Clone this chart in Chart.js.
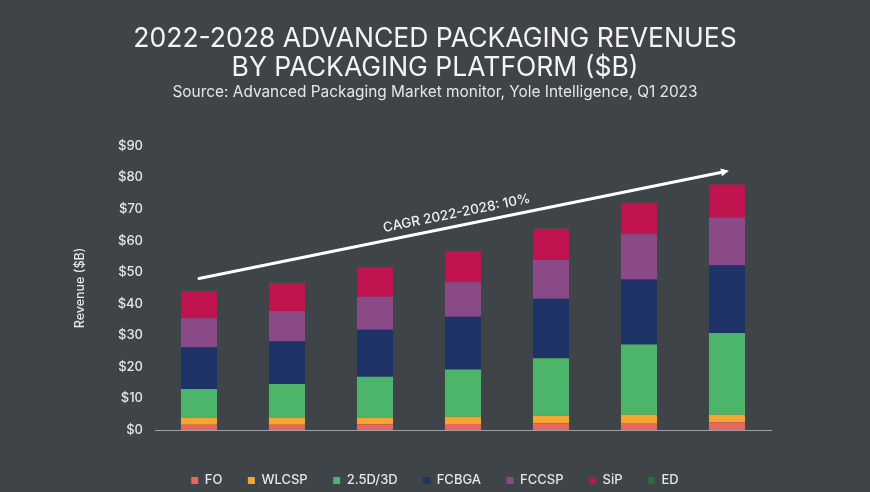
<!DOCTYPE html>
<html>
<head>
<meta charset="utf-8">
<script src="https://cdn.jsdelivr.net/npm/chart.js@4.4.1/dist/chart.umd.min.js"></script>
<style>
    html, body { margin: 0; padding: 0; background: #3f4449; }
    #wrap { width: 870px; height: 492px; }
</style>
</head>
<body>
<div id="wrap"><canvas id="revenueChart"></canvas></div>
<script>
// Data (values in $B)
const years = ['2022', '2023', '2024', '2025', '2026', '2027', '2028'];
const foValues = [1.7, 1.7, 1.8, 1.9, 2.1, 2.2, 2.4];
const wlcspValues = [2.1, 2.1, 2.2, 2.3, 2.4, 2.6, 2.4];
const advanced3dValues = [9.2, 10.8, 12.9, 15.0, 18.2, 22.3, 25.9];
const fcbgaValues = [13.2, 13.5, 14.9, 16.7, 18.9, 20.6, 21.5];
const fccspValues = [9.2, 9.6, 10.4, 10.9, 12.3, 14.3, 15.1];
const sipValues = [8.6, 8.9, 9.3, 9.7, 9.9, 10.0, 10.5];
const edValues = [0.1, 0.1, 0.1, 0.1, 0.1, 0.1, 0.1];
const yTicks = [0, 10, 20, 30, 40, 50, 60, 70, 80, 90];

// CAGR arrow, in data terms: [category, value]
const cagrFrom = ['2022', 48];
const cagrTo = ['2028', 82];
const cagrLabel = 'CAGR 2022-2028: 10%';

const FONT = 'Inter, "Open Sans", sans-serif';

const cagrArrowPlugin = {
    id: 'cagrArrow',
    afterDatasetsDraw: (chart) => {
        const { ctx, scales } = chart;
        const x1 = scales.x.getPixelForValue(years.indexOf(cagrFrom[0]));
        const y1 = scales.y.getPixelForValue(cagrFrom[1]);
        const x2 = scales.x.getPixelForValue(years.indexOf(cagrTo[0]));
        const y2 = scales.y.getPixelForValue(cagrTo[1]);
        const angle = Math.atan2(y2 - y1, x2 - x1);

        ctx.save();
        ctx.strokeStyle = '#ffffff';
        ctx.fillStyle = '#ffffff';
        ctx.lineWidth = 3;
        ctx.lineCap = 'round';
        ctx.beginPath();
        ctx.moveTo(x1, y1);
        ctx.lineTo(x2 - 4 * Math.cos(angle), y2 - 4 * Math.sin(angle));
        ctx.stroke();

        // arrow head
        ctx.translate(x2, y2);
        ctx.rotate(angle);
        ctx.beginPath();
        ctx.moveTo(2, 0);
        ctx.lineTo(-6, -4);
        ctx.lineTo(-6, 4);
        ctx.closePath();
        ctx.fill();
        ctx.restore();

        // label along the line
        const mx = (x1 + x2) / 2 - 4;
        const my = (y1 + y2) / 2;
        ctx.save();
        ctx.translate(mx, my);
        ctx.rotate(angle);
        ctx.font = `500 13.5px ${FONT}`;
        ctx.fillStyle = '#f2f2f2';
        ctx.textAlign = 'center';
        ctx.textBaseline = 'bottom';
        ctx.fillText(cagrLabel, 0, -5);
        ctx.restore();
    }
};

const ctx = document.getElementById('revenueChart').getContext('2d');
new Chart(ctx, {
    type: 'bar',
    data: {
        labels: years,
        datasets: [
            { label: 'FO', data: foValues, backgroundColor: '#e8665e' },
            { label: 'WLCSP', data: wlcspValues, backgroundColor: '#f5a632' },
            { label: '2.5D/3D', data: advanced3dValues, backgroundColor: '#4db56a' },
            { label: 'FCBGA', data: fcbgaValues, backgroundColor: '#1e3366' },
            { label: 'FCCSP', data: fccspValues, backgroundColor: '#8a4a88' },
            { label: 'SiP', data: sipValues, backgroundColor: '#c0144e' },
            { label: 'ED', data: edValues, backgroundColor: '#2e6b3a' }
        ]
    },
    options: {
        responsive: true,
        maintainAspectRatio: false,
        animation: false,
        datasets: {
            bar: { categoryPercentage: 1, barPercentage: 0.41 }
        },
        layout: {
            padding: 0
        },
        plugins: {
            title: {
                display: true,
                text: ['2022-2028 ADVANCED PACKAGING REVENUES', 'BY PACKAGING PLATFORM ($B)'],
                color: '#f4f4f4',
                font: { family: FONT, size: 26.5, weight: '400', lineHeight: 1.09 },
                padding: { top: 25, bottom: 0 }
            },
            subtitle: {
                display: true,
                text: 'Source: Advanced Packaging Market monitor, Yole Intelligence, Q1 2023',
                color: '#e6e6e6',
                font: { family: FONT, size: 15.4, weight: '400', lineHeight: 1.2 },
                padding: { top: 0, bottom: 44.7 }
            },
            legend: {
                position: 'bottom',
                maxHeight: 43.5,
                labels: {
                    color: '#e6e6e6',
                    font: { family: FONT, size: 13, weight: '500' },
                    boxWidth: 7,
                    boxHeight: 7,
                    padding: 25.5
                }
            },
            tooltip: { enabled: false }
        },
        scales: {
            x: {
                stacked: true,
                grid: { display: false },
                border: { display: true, color: '#9aa0a6', width: 1 },
                ticks: {
                    color: '#e6e6e6',
                    font: { family: FONT, size: 13, weight: '500' },
                    padding: 9
                },
                afterFit: (scale) => { scale.height = 18.5; }
            },
            y: {
                stacked: true,
                min: 0,
                max: 90,
                grid: { display: false, drawTicks: false },
                border: { display: false },
                afterBuildTicks: (scale) => {
                    scale.ticks = yTicks.map(v => ({ value: v }));
                },
                ticks: {
                    color: '#e6e6e6',
                    font: { family: FONT, size: 13, weight: '500' },
                    padding: 12,
                    callback: (value) => '$' + value
                },
                title: {
                    display: true,
                    text: 'Revenue ($B)',
                    color: '#e6e6e6',
                    font: { family: FONT, size: 12.5, weight: '500' },
                    padding: { top: 72.5, bottom: 0 }
                },
                afterFit: (scale) => { scale.width = 155; }
            },
            // empty right-hand axis that only reserves the margin right of the plot
            yRight: {
                position: 'right',
                min: 0,
                max: 90,
                grid: { display: false, drawTicks: false },
                border: { display: false },
                ticks: { display: false },
                afterFit: (scale) => { scale.width = 99; }
            }
        }
    },
    plugins: [cagrArrowPlugin]
});
</script>
</body>
</html>
